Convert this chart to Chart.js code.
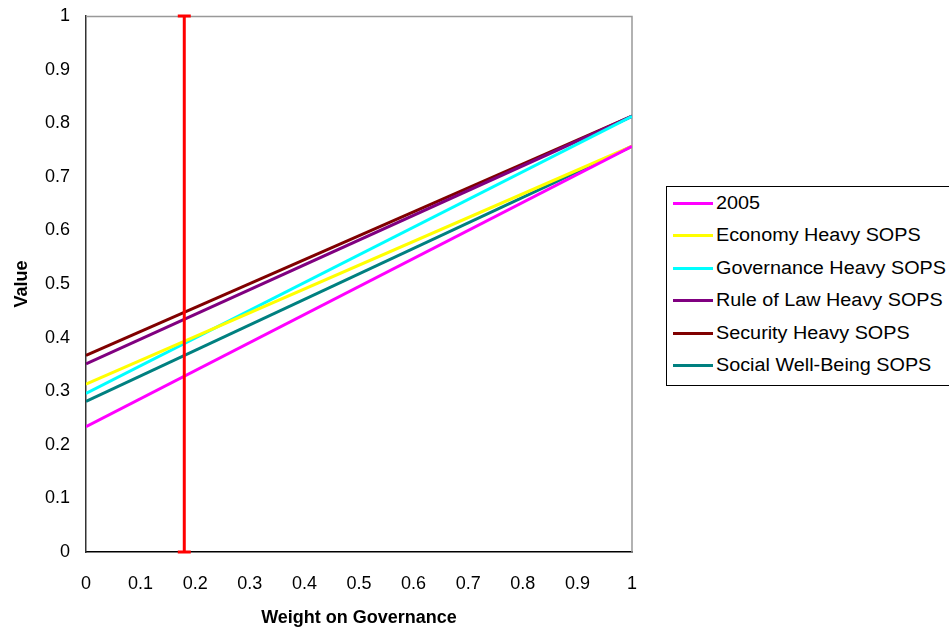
<!DOCTYPE html>
<html>
<head>
<meta charset="utf-8">
<script src="https://cdn.jsdelivr.net/npm/chart.js@4/dist/chart.umd.min.js"></script>
<style>
  html, body { margin: 0; padding: 0; background: #fff; }
  #wrap { position: relative; width: 949px; height: 634px; overflow: hidden; }
  #legend { position: absolute; left: 666px; top: 186px; width: 300px; height: 200px; box-sizing: border-box;
    border: 1px solid #000; background: #fff; font-family: "Liberation Sans", Arial, sans-serif; font-size: 18px; color: #000; }
  .item { position: absolute; left: 6px; height: 20px; display: flex; align-items: center; white-space: nowrap; }
  .sw { width: 40px; height: 3px; margin-right: 3px; flex: none; }
  .tx { display: inline-block; transform: scaleX(1.1); transform-origin: left center; }
</style>
</head>
<body>
<div id="wrap">
  <canvas id="c" width="949" height="634"></canvas>
  <div id="legend"></div>
</div>
<script>
const xValues = [0, 1];
const seriesNames = ["2005", "Economy Heavy SOPS", "Governance Heavy SOPS", "Rule of Law Heavy SOPS", "Security Heavy SOPS", "Social Well-Being SOPS"];
const series2005 = [0.234, 0.757];
const seriesEconomy = [0.313, 0.757];
const seriesGovernance = [0.296, 0.813];
const seriesRuleOfLaw = [0.351, 0.813];
const seriesSecurity = [0.367, 0.813];
const seriesSocial = [0.281, 0.757];
const seriesColors = ["#FF00FF", "#FFFF00", "#00FFFF", "#800080", "#800000", "#008080"];
const markerX = [0.18, 0.18];
const markerY = [0, 1];
const xTicks = [0, 0.1, 0.2, 0.3, 0.4, 0.5, 0.6, 0.7, 0.8, 0.9, 1];
const yTicks = [0, 0.1, 0.2, 0.3, 0.4, 0.5, 0.6, 0.7, 0.8, 0.9, 1];

const allSeries = [series2005, seriesEconomy, seriesGovernance, seriesRuleOfLaw, seriesSecurity, seriesSocial];
const datasets = allSeries.map((vals, i) => ({
  label: seriesNames[i],
  data: xValues.map((x, j) => ({x: x, y: vals[j]})),
  borderColor: seriesColors[i],
  backgroundColor: seriesColors[i],
  borderWidth: 3,
  pointRadius: 0,
  fill: false,
  tension: 0
}));
datasets.unshift({
  label: "marker",
  data: markerX.map((x, j) => ({x: x, y: markerY[j]})),
  borderColor: "#FF0000",
  backgroundColor: "#FF0000",
  borderWidth: 3,
  pointStyle: "line",
  pointRadius: 6.5,
  pointBorderWidth: 3,
  pointBorderColor: "#FF0000",
  fill: false,
  clip: false
});

const boxPlugin = {
  id: "box",
  beforeDatasetsDraw(chart) {
    const a = chart.chartArea, ctx = chart.ctx;
    ctx.save();
    ctx.strokeStyle = "#999999";
    ctx.lineWidth = 1.5;
    ctx.beginPath();
    ctx.moveTo(a.left, a.top + 0.5);
    ctx.lineTo(a.right, a.top + 0.5);
    ctx.lineTo(a.right, a.bottom);
    ctx.stroke();
    ctx.restore();
  }
};

const fam = "'Liberation Sans', Arial, sans-serif";
const tickFont = {family: fam, size: 18};
new Chart(document.getElementById("c"), {
  type: "line",
  data: {datasets: datasets},
  plugins: [boxPlugin],
  options: {
    responsive: false,
    animation: false,
    layout: {padding: {left: 0, right: 317, top: 16, bottom: 0}},
    plugins: {legend: {display: false}, tooltip: {enabled: false}},
    scales: {
      x: {
        type: "linear", min: 0, max: 1,
        afterBuildTicks: s => { s.ticks = xTicks.map(v => ({value: v})); },
        afterFit: s => { s.height = 82; s.paddingLeft = 0; s.paddingRight = 0; },
        ticks: {color: "#000", font: tickFont, padding: 15, maxRotation: 0, callback: v => String(v)},
        grid: {display: false, drawOnChartArea: false, drawTicks: true, tickLength: 6, color: "#000"},
        border: {display: true, color: "#000", width: 1.5},
        title: {display: true, text: "Weight on Governance", color: "#000", font: {family: fam, size: 18, weight: "bold"}, padding: {top: 0, bottom: 5}}
      },
      y: {
        type: "linear", min: 0, max: 1,
        afterBuildTicks: s => { s.ticks = yTicks.map(v => ({value: v})); },
        afterFit: s => { s.width = 86; s.paddingTop = 0; s.paddingBottom = 0; },
        ticks: {color: "#000", font: tickFont, padding: 9, callback: v => String(v)},
        grid: {display: false, drawOnChartArea: false, drawTicks: true, tickLength: 7, color: "#000"},
        border: {display: true, color: "#333", width: 1.5},
        title: {display: true, text: "Value", color: "#000", font: {family: fam, size: 18, weight: "bold"}, padding: {top: 11, bottom: 0}}
      }
    }
  }
});

const leg = document.getElementById("legend");
seriesNames.forEach((n, i) => {
  const d = document.createElement("div");
  d.className = "item";
  d.style.top = (6 + i * 32.5) + "px";
  d.innerHTML = '<span class="sw" style="background:' + seriesColors[i] + '"></span><span class="tx">' + n + '</span>';
  leg.appendChild(d);
});
</script>
</body>
</html>
